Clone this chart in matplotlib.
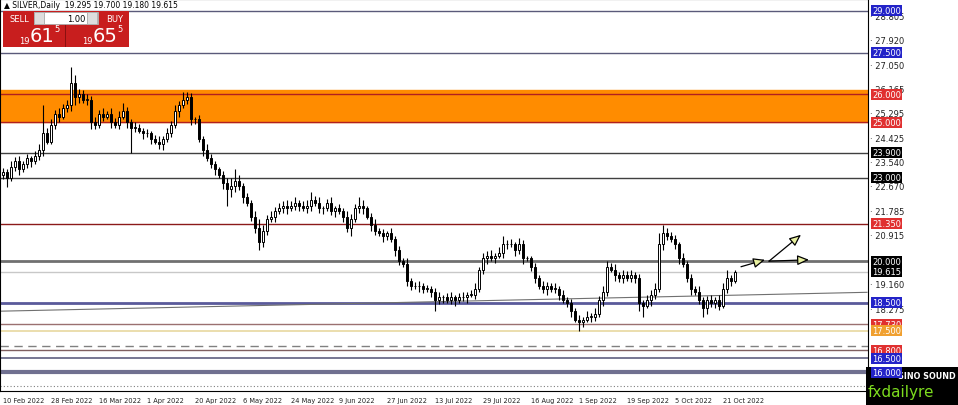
import matplotlib
matplotlib.use("Agg")
import matplotlib.pyplot as plt
from matplotlib.patches import Rectangle, FancyArrowPatch
import numpy as np

closes = [23.2,23.0,23.4,23.6,23.3,23.5,23.7,23.6,23.8,24.0,24.6,24.3,
          24.9,25.3,25.2,25.5,25.6,26.4,25.9,26.0,25.8,25.8,25.0,24.9,
          25.3,25.2,25.3,25.0,24.9,25.2,25.4,25.0,24.8,24.8,24.7,24.6,
          24.6,24.4,24.3,24.2,24.4,24.6,24.9,25.4,25.6,25.8,25.9,25.1,
          25.1,24.4,24.0,23.7,23.5,23.3,23.1,22.8,22.6,22.7,22.9,22.7,
          22.3,22.1,21.6,21.2,20.7,21.1,21.5,21.6,21.8,21.9,22.0,21.9,
          22.0,22.1,22.0,21.9,22.0,22.2,22.1,21.9,21.9,22.1,21.8,21.9,
          21.8,21.6,21.2,21.5,21.9,22.0,21.9,21.6,21.3,21.1,21.0,20.9,
          21.0,20.8,20.4,20.0,19.9,19.3,19.1,19.1,19.1,19.0,19.0,18.9,
          18.6,18.7,18.7,18.6,18.7,18.6,18.7,18.7,18.8,18.8,19.0,19.7,
          20.1,20.2,20.1,20.2,20.3,20.6,20.6,20.6,20.4,20.6,20.1,20.1,
          19.8,19.4,19.1,19.0,19.1,19.0,19.0,18.8,18.6,18.5,18.2,17.9,
          17.8,17.9,18.0,18.0,18.1,18.6,18.9,19.8,19.7,19.5,19.4,19.5,
          19.4,19.5,19.4,18.5,18.4,18.6,18.8,19.0,20.6,21.0,20.9,20.8,
          20.6,20.1,19.9,19.4,19.0,18.9,18.6,18.3,18.6,18.5,18.6,18.4,
          19.0,19.4,19.3,19.615]
first_open = 23.1
wick_up = [.15,.1,.2,.15,.2,.1,.15,.1,.15,.2,1.0,.2,
           .2,.15,.2,.15,.2,.6,.3,.2,.15,.2,.15,.2,
           .15,.2,.1,.2,.15,.2,.3,.15,.1,.2,.15,.1,
           .15,.1,.15,.2,.1,.2,.15,.2,.15,.3,.2,.15,
           .1,.15,.1,.2,.15,.1,.1,.15,.2,.3,.4,.2,
           .1,.15,.1,.2,.3,.2,.15,.2,.15,.2,.15,.2,
           .15,.2,.1,.15,.2,.3,.15,.2,.1,.15,.2,.1,
           .15,.1,.2,.2,.15,.3,.2,.1,.15,.2,.1,.15,
           .1,.2,.1,.15,.1,.2,.1,.15,.2,.1,.15,.1,
           .15,.2,.1,.15,.2,.1,.15,.2,.1,.15,.2,.1,
           .2,.15,.2,.1,.2,.3,.15,.2,.1,.25,.15,.1,
           .1,.15,.1,.2,.15,.1,.2,.1,.15,.1,.15,.1,
           .15,.1,.2,.15,.2,.15,.2,.2,.15,.2,.1,.2,
           .15,.2,.1,.15,.1,.2,.15,.2,.4,.3,.2,.15,
           .15,.1,.2,.1,.15,.1,.2,.1,.15,.2,.1,.2,
           .2,.3,.1,.085]
wick_dn = [.15,.35,.1,.15,.2,.1,.15,.2,.1,.15,.2,.1,
           .1,.15,.2,.1,.15,.2,.3,.2,.1,.2,.25,.15,
           .1,.15,.1,.2,.1,.15,.1,.2,.9,.15,.1,.2,
           .15,.2,.1,.15,.2,.1,.15,.1,.2,.1,.15,.2,
           .15,.1,.2,.1,.15,.2,.1,.2,.6,.3,.2,.15,
           .2,.1,.15,.2,.3,.2,.15,.1,.2,.1,.15,.2,
           .1,.15,.2,.1,.15,.2,.1,.15,.2,.1,.15,.2,
           .1,.2,.15,.3,.1,.15,.2,.1,.2,.15,.1,.2,
           .15,.1,.2,.15,.1,.2,.15,.1,.2,.15,.1,.2,
           .4,.15,.2,.1,.15,.2,.1,.15,.2,.1,.15,.1,
           .15,.2,.1,.15,.1,.2,.15,.1,.2,.15,.2,.1,
           .15,.2,.1,.15,.2,.1,.15,.2,.1,.15,.2,.1,
           .3,.15,.1,.2,.15,.1,.2,.15,.1,.2,.15,.2,
           .1,.15,.2,.3,.4,.1,.2,.15,.1,.2,.15,.1,
           .15,.2,.1,.15,.2,.1,.15,.3,.2,.15,.2,.15,
           .1,.15,.2,.1]

date_labels = ["10 Feb 2022","28 Feb 2022","16 Mar 2022","1 Apr 2022","20 Apr 2022",
               "6 May 2022","24 May 2022","9 Jun 2022","27 Jun 2022","13 Jul 2022",
               "29 Jul 2022","16 Aug 2022","1 Sep 2022","19 Sep 2022","5 Oct 2022","21 Oct 2022"]
axis_ticks = [28.805,27.920,27.050,26.165,25.295,24.425,23.540,22.670,21.785,20.915,19.160,18.275]
# (price, line colour, line width, label bg, style)
levels = [(29.0,"#5a5a7a",1.0,"#2323c8","-"),(27.5,"#5a5a7a",1.0,"#2323c8","-"),
          (26.0,"#b02020",1.0,"#e03030","-"),(25.0,"#b02020",1.0,"#e03030","-"),
          (23.9,"#404040",1.0,"#000000","-"),(23.0,"#404040",1.0,"#000000","-"),
          (21.35,"#8b1a1a",1.0,"#e03030","-"),(20.0,"#707070",2.0,"#000000","-"),
          (19.615,"#c8c8c8",1.0,"#000000","-"),(18.5,"#5a5a9a",2.0,"#2323c8","-"),
          (17.73,"#9a7070",1.0,"#e03030","-"),(17.5,"#e8d8a0",1.2,"#f0a030","-"),
          (16.8,"#806060",1.0,"#e03030","-"),(16.5,"#606080",1.2,"#2323c8","-"),
          (16.0,"#707090",3.0,"#2323c8","-")]
dashed_level = 16.95
dotted_level = 15.5
band = (25.0, 26.15)
trend = [(-1, 18.2), (216, 18.88)]

W, H = 958, 406
fig = plt.figure(figsize=(W/100, H/100), dpi=100)
ax = fig.add_axes([0, 14/H, 868/W, 1-14/H])
ax.set_xlim(-0.75, 216.25)
ax.set_ylim(15.33, 29.43)

ax.axhspan(band[0], band[1], color="#ff8c00", zorder=1)
for p, c, lw, bg, ls in levels:
    ax.axhline(p, color=c, lw=lw, ls=ls, zorder=2)
ax.axhline(dashed_level, color="#808080", lw=1, ls=(0,(6,4)), zorder=2)
ax.axhline(dotted_level, color="#808080", lw=0.8, ls=(0,(1,2)), zorder=2)
ax.plot([trend[0][0], trend[1][0]], [trend[0][1], trend[1][1]], color="#707070", lw=0.8, zorder=2)

n = len(closes)
opens = [first_open] + closes[:-1]
for i in range(n):
    o, c = opens[i], closes[i]
    hi = max(o, c) + wick_up[i]
    lo = min(o, c) - wick_dn[i]
    ax.vlines(i, lo, hi, color="black", lw=0.8, zorder=3)
    body = abs(c - o) if abs(c - o) > 0.02 else 0.02
    fc = "white" if c >= o else "black"
    ax.add_patch(Rectangle((i-0.35, min(o, c)), 0.7, body, facecolor=fc, edgecolor="black", lw=0.7, zorder=4))

def arrow(x0, y0, x1, y1):
    a = FancyArrowPatch((x0, y0), (x1, y1), arrowstyle="-|>,head_length=0.7,head_width=0.3",
                        mutation_scale=10, color="black", lw=0.9, zorder=5, shrinkA=0, shrinkB=0)
    a.set_facecolor("#e8f0a0")
    ax.add_patch(a)
arrow(184.5, 19.8, 190.5, 20.05)
arrow(191.5, 20.0, 199.5, 20.95)
arrow(191.5, 20.0, 201.5, 20.05)

ax.set_xticks([]); ax.set_yticks([])
for s in ax.spines.values():
    s.set_color("black"); s.set_linewidth(0.8)

def ypix(p):
    return (p - 15.33) / (29.43 - 15.33) * (H - 14) + 14
for p in axis_ticks:
    fig.text(870/W, ypix(p)/H, "· " + f"{p:.3f}", fontsize=6, va="center", ha="left", color="#222222")
for p, c, lw, bg, ls in levels:
    fig.text(872/W, ypix(p)/H, f"{p:.3f}", fontsize=6, va="center", ha="left", color="white",
             bbox=dict(boxstyle="square,pad=0.12", fc=bg, ec="none"), zorder=10)

for k, lab in enumerate(date_labels):
    fig.text((3 + 48*k)/W, 5/H, lab, fontsize=4.8, va="center", ha="left", color="#222222")

fig.text(4/W, 1-6/H, "▲ SILVER,Daily  19.295 19.700 19.180 19.615", fontsize=5.5, va="center", ha="left")

def frect(x0, y0, w, h, fc, ec="none"):
    fig.add_artist(Rectangle((x0/W, 1-(y0+h)/H), w/W, h/H, transform=fig.transFigure, fc=fc, ec=ec, lw=0.6))
frect(3, 12, 126, 36, "#c81e1e")
frect(34, 13, 64, 12, "white", "#aaaaaa")
frect(34, 13, 10, 12, "#dddddd", "#aaaaaa")
frect(87, 13, 10, 12, "#dddddd", "#aaaaaa")
frect(65, 26, 1.2, 22, "#8a1010")
fig.text(10/W, 1-19/H, "SELL", fontsize=6, color="white", va="center")
fig.text(106/W, 1-19/H, "BUY", fontsize=6, color="white", va="center")
fig.text(76/W, 1-19/H, "1.00", fontsize=6, color="black", va="center", ha="center")
fig.text(19/W, 1-41/H, "19", fontsize=6, color="white", va="center")
fig.text(30/W, 1-37/H, "61", fontsize=14, color="white", va="center")
fig.text(54/W, 1-30/H, "5", fontsize=6, color="white", va="center")
fig.text(82/W, 1-41/H, "19", fontsize=6, color="white", va="center")
fig.text(93/W, 1-37/H, "65", fontsize=14, color="white", va="center")
fig.text(117/W, 1-30/H, "5", fontsize=6, color="white", va="center")

frect(866, 368, 92, 38, "black")
fig.text(898/W, 1-377/H, "SINO SOUND", fontsize=5.8, color="white", weight="bold", va="center", ha="left")
fig.text(868/W, 1-393/H, "fxdailyre", fontsize=11, color="#7ddc1f", va="center", ha="left")

fig.savefig("out.png", dpi=100, facecolor="white")
